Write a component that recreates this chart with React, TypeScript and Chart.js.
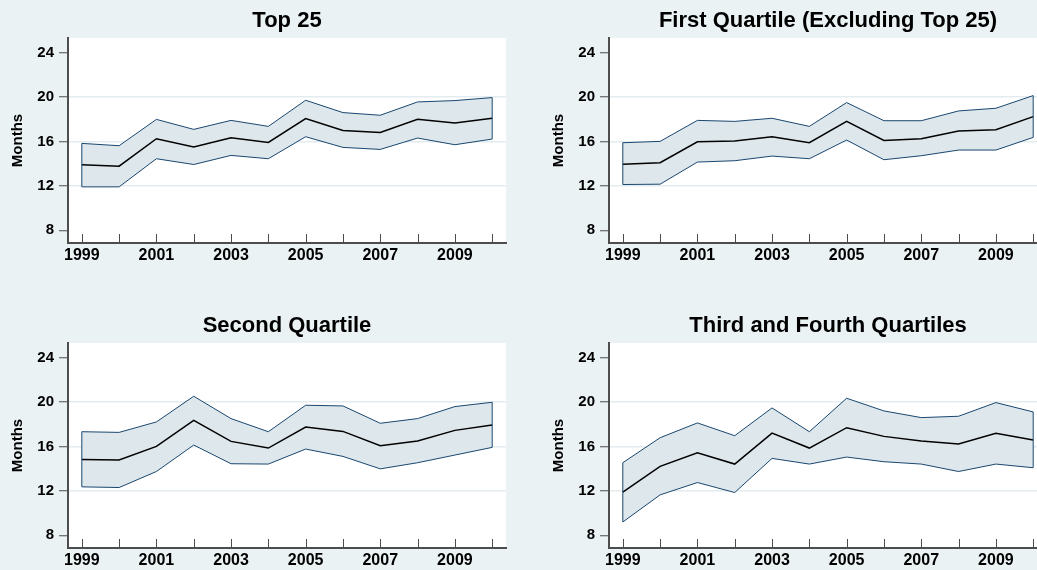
import React, { useEffect, useRef } from 'react';
import { Chart, registerables } from 'chart.js';

Chart.register(...registerables);

const years = [1999, 2000, 2001, 2002, 2003, 2004, 2005, 2006, 2007, 2008, 2009, 2010];
const xTickLabels = ['1999', '2001', '2003', '2005', '2007', '2009'];
const yTicks = [8, 12, 16, 20, 24];
const yGridValues = [12, 16, 20];
const yAxisTitle = 'Months';

const top25Upper = [15.82, 15.61, 17.98, 17.08, 17.89, 17.35, 19.7, 18.59, 18.35, 19.55, 19.67, 19.94];
const top25Mid = [13.9, 13.77, 16.24, 15.49, 16.33, 15.91, 18.05, 16.98, 16.81, 17.98, 17.65, 18.08];
const top25Lower = [11.91, 11.91, 14.44, 13.92, 14.74, 14.44, 16.42, 15.46, 15.28, 16.3, 15.7, 16.21];

const q1Upper = [15.88, 16.0, 17.89, 17.8, 18.08, 17.35, 19.49, 17.86, 17.86, 18.74, 18.98, 20.12];
const q1Mid = [13.95, 14.08, 15.97, 16.03, 16.42, 15.88, 17.8, 16.09, 16.24, 16.93, 17.05, 18.23];
const q1Lower = [12.12, 12.15, 14.14, 14.26, 14.68, 14.44, 16.12, 14.35, 14.71, 15.22, 15.22, 16.36];

const q2Upper = [17.32, 17.26, 18.2, 20.51, 18.5, 17.32, 19.7, 19.64, 18.08, 18.5, 19.58, 19.97];
const q2Mid = [14.83, 14.77, 16.0, 18.35, 16.45, 15.85, 17.74, 17.35, 16.06, 16.48, 17.44, 17.92];
const q2Lower = [12.36, 12.3, 13.74, 16.12, 14.44, 14.41, 15.76, 15.1, 13.98, 14.53, 15.22, 15.91];

const q34Upper = [14.53, 16.78, 18.11, 16.96, 19.46, 17.32, 20.33, 19.19, 18.59, 18.71, 19.94, 19.1];
const q34Mid = [11.88, 14.2, 15.43, 14.41, 17.2, 15.85, 17.68, 16.9, 16.48, 16.21, 17.17, 16.57];
const q34Lower = [9.2, 11.64, 12.75, 11.85, 14.92, 14.41, 15.04, 14.62, 14.41, 13.74, 14.41, 14.08];

const FONT = '"Liberation Sans", Arial, Helvetica, sans-serif';
const BG = '#eaf2f3';
const BAND = '#dde7ec';
const EDGE = '#1a476f';
const AXIS = '#4d4d4d';
const GRID = '#e3ecef';

type PanelProps = {
  title: string;
  lower: number[];
  mid: number[];
  upper: number[];
  left: number;
  top: number;
};

const W = 510;
const H = 265;

function Panel({ title, lower, mid, upper, left, top }: PanelProps) {
  const ref = useRef<HTMLCanvasElement | null>(null);

  useEffect(() => {
    if (!ref.current) return;
    const toPts = (arr: number[]) => years.map((yr, i) => ({ x: yr, y: arr[i] }));

    const panelPlugin = {
      id: 'panelDeco',
      beforeDraw(chart: any) {
        const { ctx, chartArea } = chart;
        ctx.save();
        ctx.fillStyle = '#ffffff';
        ctx.fillRect(chartArea.left, chartArea.top, chartArea.right - chartArea.left, chartArea.bottom - chartArea.top);
        ctx.restore();
      },
      afterDatasetsDraw(chart: any) {
        const { ctx, chartArea } = chart;
        const xs = chart.scales.x;
        const ys = chart.scales.y;
        ctx.save();
        // closing edges of the band
        ctx.strokeStyle = EDGE;
        ctx.lineWidth = 1;
        [0, years.length - 1].forEach((i) => {
          const px = xs.getPixelForValue(years[i]);
          ctx.beginPath();
          ctx.moveTo(px, ys.getPixelForValue(lower[i]));
          ctx.lineTo(px, ys.getPixelForValue(upper[i]));
          ctx.stroke();
        });
        // inner x tick marks
        ctx.strokeStyle = AXIS;
        ctx.lineWidth = 1;
        years.forEach((yr) => {
          const px = Math.round(xs.getPixelForValue(yr)) + 0.5;
          ctx.beginPath();
          ctx.moveTo(px, chartArea.bottom);
          ctx.lineTo(px, chartArea.bottom - 9);
          ctx.stroke();
        });
        ctx.restore();
      },
      afterDraw(chart: any) {
        const { ctx, chartArea } = chart;
        ctx.save();
        ctx.fillStyle = '#000';
        ctx.textAlign = 'center';
        ctx.textBaseline = 'middle';
        ctx.font = `bold 22px ${FONT}`;
        ctx.fillText(title, (chartArea.left + chartArea.right) / 2, 21);
        ctx.translate(18, (chartArea.top + chartArea.bottom) / 2);
        ctx.rotate(-Math.PI / 2);
        ctx.font = `bold 15px ${FONT}`;
        ctx.fillText(yAxisTitle, 0, 0);
        ctx.restore();
      },
    };

    const chart = new Chart(ref.current, {
      type: 'line',
      data: {
        datasets: [
          { data: toPts(lower), borderColor: EDGE, borderWidth: 1, pointRadius: 0, fill: false, tension: 0, order: 2 },
          { data: toPts(upper), borderColor: EDGE, borderWidth: 1, pointRadius: 0, fill: '-1', backgroundColor: BAND, tension: 0, order: 2 },
          { data: toPts(mid), borderColor: '#000000', borderWidth: 1.5, pointRadius: 0, fill: false, tension: 0, order: 0 },
        ],
      },
      options: {
        animation: false,
        responsive: false,
        devicePixelRatio: 1,
        layout: { padding: { top: 38, left: 0, right: 4, bottom: 0 } },
        plugins: {
          legend: { display: false },
          tooltip: { enabled: false },
          title: { display: false },
        },
        scales: {
          x: {
            type: 'linear',
            min: 1998.63,
            max: 2010.37,
            afterBuildTicks: (s: any) => {
              s.ticks = years.map((v) => ({ value: v }));
            },
            afterFit: (s: any) => {
              s.height = 22;
            },
            grid: { display: true, drawOnChartArea: false, drawTicks: false },
            border: { display: true, color: AXIS, width: 2 },
            ticks: {
              autoSkip: false,
              maxRotation: 0,
              padding: 3,
              color: '#000',
              font: { family: FONT, size: 16, weight: 'bold' },
              callback: (v: any) => (xTickLabels.includes(String(v)) ? String(v) : ''),
            },
          },
          y: {
            type: 'linear',
            min: 6.86,
            max: 25.3,
            afterBuildTicks: (s: any) => {
              s.ticks = yTicks.map((v) => ({ value: v }));
            },
            afterFit: (s: any) => {
              s.width = 68;
            },
            grid: {
              color: (c: any) => (c.tick && yGridValues.includes(c.tick.value) ? GRID : 'rgba(0,0,0,0)'),
              lineWidth: 1.5,
              tickColor: AXIS,
              tickWidth: 1,
              tickLength: 9,
              drawTicks: true,
            },
            border: { display: true, color: AXIS, width: 2 },
            ticks: {
              padding: 5,
              color: '#000',
              font: { family: FONT, size: 15, weight: 'bold' },
              callback: (v: any) => String(v),
            },
          },
        },
      },
      plugins: [panelPlugin],
    } as any);

    return () => chart.destroy();
  }, [title, lower, mid, upper]);

  return (
    <canvas
      ref={ref}
      width={W}
      height={H}
      style={{ position: 'absolute', left, top, width: W, height: H }}
    />
  );
}

export default function App() {
  return (
    <div
      style={{
        position: 'fixed',
        left: 0,
        top: 0,
        width: 1037,
        height: 570,
        overflow: 'hidden',
        background: BG,
      }}
    >
      <Panel title="Top 25" lower={top25Lower} mid={top25Mid} upper={top25Upper} left={0} top={0} />
      <Panel title="First Quartile (Excluding Top 25)" lower={q1Lower} mid={q1Mid} upper={q1Upper} left={541} top={0} />
      <Panel title="Second Quartile" lower={q2Lower} mid={q2Mid} upper={q2Upper} left={0} top={305} />
      <Panel title="Third and Fourth Quartiles" lower={q34Lower} mid={q34Mid} upper={q34Upper} left={541} top={305} />
    </div>
  );
}
